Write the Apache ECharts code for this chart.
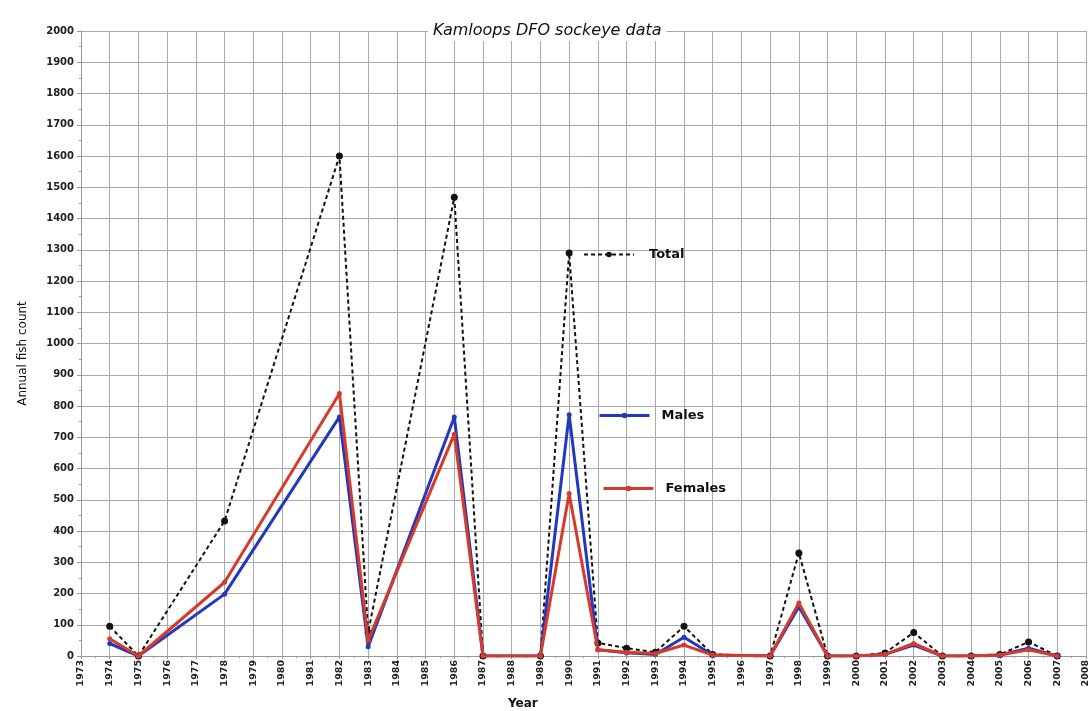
<!DOCTYPE html>
<html>
<head>
<meta charset="utf-8">
<script src="https://cdn.jsdelivr.net/npm/echarts@6/dist/echarts.min.js"></script>
<style>
html,body{margin:0;padding:0;background:#fff;}
#chart{width:1091px;height:711px;}
</style>
</head>
<body>
<div id="chart"></div>
<script>
const titleText = 'Kamloops DFO sockeye data';
const yAxisName = 'Annual fish count';
const xAxisName = 'Year';
const seriesNames = ['Total', 'Males', 'Females'];
const years = [1974, 1975, 1978, 1982, 1983, 1986, 1987, 1989, 1990, 1991, 1992, 1993, 1994, 1995, 1997, 1998, 1999, 2000, 2001, 2002, 2003, 2004, 2005, 2006, 2007];
const totalValues = [95, 0, 432, 1600, 75, 1468, 0, 0, 1290, 42, 25, 12, 95, 5, 0, 330, 0, 0, 10, 75, 0, 0, 5, 45, 0];
const maleValues = [40, 0, 198, 765, 30, 765, 0, 0, 772, 20, 10, 5, 60, 3, 0, 158, 0, 0, 5, 35, 0, 0, 3, 25, 0];
const femaleValues = [55, 0, 236, 840, 50, 710, 0, 0, 520, 20, 12, 8, 35, 3, 0, 170, 0, 0, 5, 40, 0, 0, 3, 20, 0];
const xMin = 1973, xMax = 2008;
const yMin = 0, yMax = 2000, yStep = 100;

const pairs = vals => years.map((y, i) => [y, vals[i]]);
const FONT = 'DejaVu Sans';
const chart = echarts.init(document.getElementById('chart'), null, {renderer: 'canvas'});

const legendBase = {
  orient: 'horizontal', padding: 0, itemWidth: 50, itemHeight: 7,
  textStyle: {fontFamily: FONT, fontWeight: 'bold', fontSize: 13, color: '#111'}
};

chart.setOption({
  animation: false,
  backgroundColor: '#fff',
  title: {
    text: titleText, left: 428, top: 21, padding: [2, 5],
    backgroundColor: '#fff',
    textStyle: {fontFamily: FONT, fontStyle: 'italic', fontWeight: 'normal', fontSize: 16, color: '#111'}
  },
  legend: [
    Object.assign({}, legendBase, {data: [seriesNames[0]], left: 583, top: 248,
      textStyle: Object.assign({}, legendBase.textStyle, {padding: [0, 0, 0, 10]})}),
    Object.assign({}, legendBase, {data: [seriesNames[1]], left: 598, top: 409,
      lineStyle: {width: 3},
      textStyle: Object.assign({}, legendBase.textStyle, {padding: [0, 0, 0, 7]})}),
    Object.assign({}, legendBase, {data: [seriesNames[2]], left: 602, top: 482,
      lineStyle: {width: 3},
      textStyle: Object.assign({}, legendBase.textStyle, {padding: [0, 0, 0, 7]})})
  ],
  graphic: [{
    type: 'text', left: 508, top: 698,
    style: {text: xAxisName, fontFamily: FONT, fontWeight: 'bold', fontSize: 12, fill: '#111'}
  }],
  grid: {left: 81, right: -5, top: 31, bottom: 55, containLabel: false},
  xAxis: {
    type: 'value', min: xMin, max: xMax, interval: 1,
    axisLine: {show: true, lineStyle: {color: '#999', width: 1}},
    axisTick: {show: true, inside: false, length: 3, lineStyle: {color: '#999'}},
    minorTick: {show: true, splitNumber: 2, length: 2, lineStyle: {color: '#999'}},
    splitLine: {show: true, lineStyle: {color: '#aaa', width: 1}},
    axisLabel: {rotate: 90, margin: 4, fontFamily: FONT, fontWeight: 'bold', fontSize: 9.5, color: '#222',
      formatter: v => String(v), showMaxLabel: true, showMinLabel: true}
  },
  yAxis: {
    type: 'value', min: yMin, max: yMax, interval: yStep,
    name: yAxisName, nameLocation: 'middle', nameGap: 52,
    nameTextStyle: {fontFamily: FONT, fontSize: 12, color: '#111', padding: [0, 0, 0, -20]},
    axisLine: {show: true, lineStyle: {color: '#999', width: 1}},
    axisTick: {show: true, inside: false, length: 4, lineStyle: {color: '#999'}},
    minorTick: {show: true, splitNumber: 2, length: 2, lineStyle: {color: '#999'}},
    splitLine: {show: true, lineStyle: {color: '#aaa', width: 1}},
    axisLabel: {margin: 7, fontFamily: FONT, fontWeight: 'bold', fontSize: 10, color: '#222',
      formatter: v => String(v)}
  },
  series: [
    {
      name: seriesNames[0], type: 'line', data: pairs(totalValues), z: 3,
      symbol: 'circle', symbolSize: 7,
      lineStyle: {color: '#111', width: 2, type: [4, 3]},
      itemStyle: {color: '#111'}
    },
    {
      name: seriesNames[1], type: 'line', data: pairs(maleValues), z: 4,
      symbol: 'circle', symbolSize: 5,
      lineStyle: {color: '#2238c0', width: 3},
      itemStyle: {color: '#2238c0'}
    },
    {
      name: seriesNames[2], type: 'line', data: pairs(femaleValues), z: 5,
      symbol: 'circle', symbolSize: 5,
      lineStyle: {color: '#d63a2a', width: 3},
      itemStyle: {color: '#d63a2a'}
    }
  ]
});
</script>
</body>
</html>
